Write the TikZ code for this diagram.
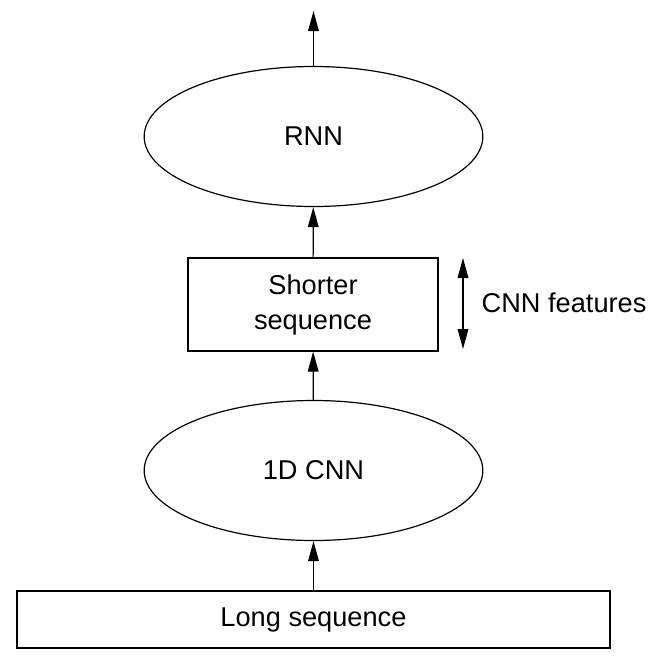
\documentclass[tikz,border=0pt]{standalone}
\usepackage{fontspec}
\setmainfont{Liberation Sans}
\usetikzlibrary{shapes.geometric,arrows.meta}
\begin{document}
\begin{tikzpicture}[x=0.75pt, y=-0.75pt,
    every node/.style={font=\fontsize{20.4}{26.25}\selectfont},
    blob/.style={draw, ellipse, line width=.9pt, inner sep=0pt, minimum width=254pt, minimum height=105pt},
    seqbox/.style={draw, rectangle, line width=.9pt, inner sep=0pt, align=center},
    flow/.style={line width=.9pt, -{Triangle[length=15pt, width=8pt]}}]
  \useasboundingbox (0, 0) rectangle (654, 669);

  %%input
  \node[seqbox, minimum width=444.75pt, minimum height=42.75pt] (long) at (313.5, 619.5) {Long sequence};
  \node[blob] (cnn) at (313.5, 470.5) {1D CNN};

  %%features
  \node[seqbox, minimum width=187.5pt, minimum height=69.75pt] (short) at (313, 304.5) {Shorter\\sequence};
  \coordinate (ftop) at (463, 258);
  \coordinate (fbot) at (463, 349);
  \node[anchor=west] (feat) at (477, 303) {CNN features};

  %%rnn
  \node[blob] (rnn) at (313.5, 136.5) {RNN};
  \coordinate (out) at (313.5, 11);

  \draw[flow] (long) -- (cnn);
  \draw[flow] (cnn) -- (short);
  \draw[flow] (short) -- (rnn);
  \draw[flow] (rnn) -- (out);
  \draw[flow, {Triangle[length=15pt, width=8pt]}-{Triangle[length=15pt, width=8pt]}] (ftop) -- (fbot);

\end{tikzpicture}
\end{document}
